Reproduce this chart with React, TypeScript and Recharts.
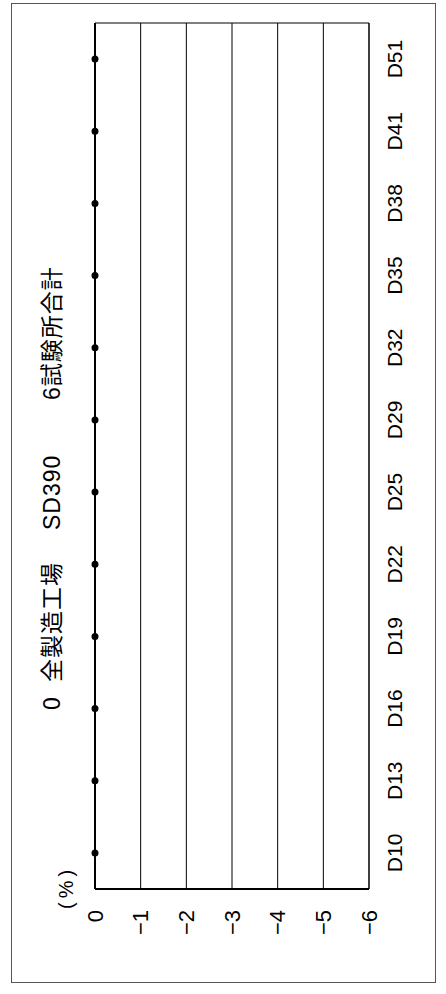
import React from 'react';
import { ComposedChart, Line, XAxis, YAxis, CartesianGrid, ReferenceArea, ReferenceLine } from 'recharts';

// bar sizes along the category axis
const categories = ['D10', 'D13', 'D16', 'D19', 'D22', 'D25', 'D29', 'D32', 'D35', 'D38', 'D41', 'D51'];
// change rate (%), every point sits on zero
const values = [0, 0, 0, 0, 0, 0, 0, 0, 0, 0, 0, 0];
const majorTicks = [0, -1, -2, -3, -4, -5, -6];
const minorTicks = [
  0, -0.2, -0.4, -0.6, -0.8, -1, -1.2, -1.4, -1.6, -1.8, -2, -2.2, -2.4, -2.6, -2.8, -3,
  -3.2, -3.4, -3.6, -3.8, -4, -4.2, -4.4, -4.6, -4.8, -5, -5.2, -5.4, -5.6, -5.8, -6,
];
const titleParts = [
  { text: '0', at: 284 },
  { text: '全製造工場', at: 312 },
  { text: 'SD390', at: 464 },
  { text: '6試験所合計', at: 594 },
];

const data = categories.map((c, i) => ({ cat: c, v: values[i] }));

const W = 994;
const H = 446;
const font = '"Liberation Sans", Arial, "Noto Sans CJK JP", sans-serif';

const fmt = (v: number) => (v < 0 ? '\u2212' + Math.abs(v) : String(v));

const App: React.FC = () => {
  return (
    <div style={{ position: 'absolute', left: 0, top: 0, width: H, height: W, background: '#fff', overflow: 'hidden' }}>
      {/* the whole chart is drawn landscape and turned a quarter to the left */}
      <div
        style={{
          position: 'absolute', left: 0, top: W, width: W, height: H,
          transformOrigin: '0 0', transform: 'rotate(-90deg)', fontFamily: font, color: '#000',
        }}
      >
        <div style={{ position: 'absolute', left: 11, top: 11, width: 980, height: 425, border: '1px solid #555', boxSizing: 'border-box' }} />
        {titleParts.map((p) => (
          <div key={p.text} style={{ position: 'absolute', left: p.at, top: 37, fontSize: 23, lineHeight: '30px', whiteSpace: 'nowrap', letterSpacing: 1 }}>
            {p.text}
          </div>
        ))}
        <div style={{ position: 'absolute', left: 85, top: 52, fontSize: 20, lineHeight: '28px', letterSpacing: 4, whiteSpace: 'nowrap' }}>(%)</div>
        <div style={{ position: 'absolute', left: 0, top: 0 }}>
          <ComposedChart width={W} height={H} data={data} margin={{ top: 95, right: 23, bottom: 0, left: 0 }}>
            <CartesianGrid yAxisId="v" vertical={false} horizontalValues={majorTicks} stroke="#000" strokeWidth={1} />
            <XAxis
              dataKey="cat"
              scale="band"
              interval={0}
              height={77}
              tickSize={0}
              tickMargin={18}
              axisLine={false}
              tick={{ fill: '#000', fontSize: 21, fontFamily: font }}
            />
            <YAxis
              yAxisId="v"
              type="number"
              domain={[-6, 0]}
              ticks={majorTicks}
              interval={0}
              width={105}
              tickSize={0}
              tickMargin={21}
              tickFormatter={fmt}
              axisLine={{ stroke: '#000', strokeWidth: 2 }}
              tick={{ fill: '#000', fontSize: 22, fontFamily: font }}
            />
            <YAxis
              yAxisId="minor"
              type="number"
              domain={[-6, 0]}
              ticks={minorTicks}
              interval={0}
              mirror
              tick={false}
              tickSize={4}
              axisLine={false}
              tickLine={{ stroke: '#000', strokeWidth: 1 }}
            />
            <ReferenceArea yAxisId="v" y1={0} y2={-6} fill="none" stroke="#000" strokeWidth={1} ifOverflow="visible" />
            <ReferenceLine yAxisId="v" y={0} stroke="#000" strokeWidth={2} />
            <Line
              yAxisId="v"
              dataKey="v"
              stroke="#000"
              strokeWidth={2}
              dot={{ r: 2.5, fill: '#000', stroke: '#000' }}
              isAnimationActive={false}
            />
          </ComposedChart>
        </div>
      </div>
    </div>
  );
};

export default App;
